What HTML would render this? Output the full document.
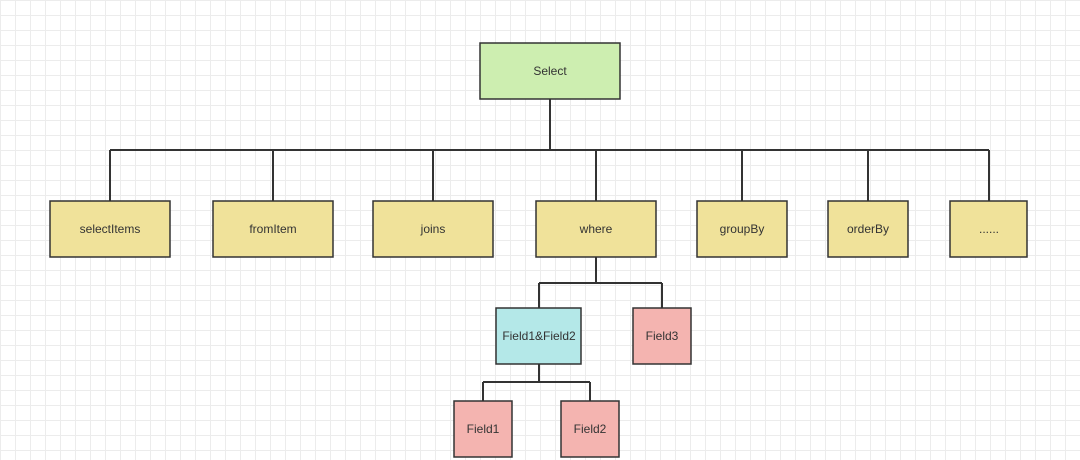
<!DOCTYPE html>
<html><head><style>
html,body{margin:0;padding:0;}
body{width:1080px;height:460px;overflow:hidden;background-color:#fff;
background-image:linear-gradient(#ececec 1px,transparent 1px),linear-gradient(90deg,#ececec 1px,transparent 1px);
background-size:15px 15px;font-family:"Liberation Sans",sans-serif;}
</style></head><body>
<svg width="1080" height="460" xmlns="http://www.w3.org/2000/svg" style="position:absolute;left:0;top:0">
<g stroke="#333" stroke-width="2" fill="none">
<path d="M550 99V150M110 150H989M110 150V201M273 150V201M433 150V201M596 150V201M742 150V201M868 150V201M989 150V201"/>
<path d="M596 257V283M539 283H662M539 283V308M662 283V308"/>
<path d="M539 364V382M483 382H590M483 382V401M590 382V401"/>
</g>
<g stroke="#333" stroke-width="1.5">
<rect x="480" y="43" width="140" height="56" fill="#cdeeb0"/>
<rect x="50" y="201" width="120" height="56" fill="#f0e29a"/>
<rect x="213" y="201" width="120" height="56" fill="#f0e29a"/>
<rect x="373" y="201" width="120" height="56" fill="#f0e29a"/>
<rect x="536" y="201" width="120" height="56" fill="#f0e29a"/>
<rect x="697" y="201" width="90" height="56" fill="#f0e29a"/>
<rect x="828" y="201" width="80" height="56" fill="#f0e29a"/>
<rect x="950" y="201" width="77" height="56" fill="#f0e29a"/>
<rect x="496" y="308" width="85" height="56" fill="#b4e8e8"/>
<rect x="633" y="308" width="58" height="56" fill="#f4b4b0"/>
<rect x="454" y="401" width="58" height="56" fill="#f4b4b0"/>
<rect x="561" y="401" width="58" height="56" fill="#f4b4b0"/>
</g>
<g font-family="Liberation Sans, sans-serif" font-size="12" fill="#333" text-anchor="middle">
<text x="550" y="75">Select</text>
<text x="110" y="233">selectItems</text>
<text x="273" y="233">fromItem</text>
<text x="433" y="233">joins</text>
<text x="596" y="233">where</text>
<text x="742" y="233">groupBy</text>
<text x="868" y="233">orderBy</text>
<text x="989" y="233">......</text>
<text x="539" y="340">Field1&amp;Field2</text>
<text x="662" y="340">Field3</text>
<text x="483" y="433">Field1</text>
<text x="590" y="433">Field2</text>
</g>
</svg>
</body></html>
